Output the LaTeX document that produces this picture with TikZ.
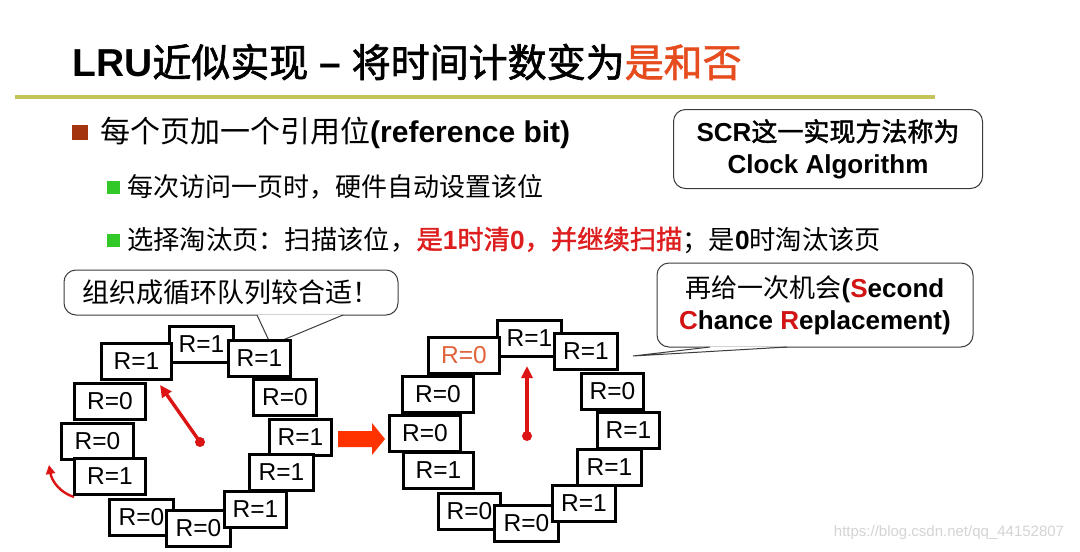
\documentclass[tikz,border=0pt]{standalone}
\usepackage{fontspec}
\setmainfont{Liberation Sans}
\newfontfamily\cjk{Noto Sans CJK SC}
\newfontfamily\cjkmed[FakeBold=1.6]{Noto Sans CJK SC}
\usetikzlibrary{arrows.meta,calc}
\newcommand\zh[1]{{\cjk #1}}
\newcommand\zhm[1]{{\cjkmed #1}}
\definecolor{titleline}{RGB}{196,196,90}
\definecolor{titlered}{RGB}{230,76,30}
\definecolor{textred}{RGB}{222,30,30}
\definecolor{capred}{RGB}{210,20,20}
\definecolor{brownsq}{RGB}{163,52,14}
\definecolor{greensq}{RGB}{50,200,40}
\definecolor{handred}{RGB}{220,20,20}
\definecolor{bigarrow}{RGB}{255,51,0}
\definecolor{orangeR}{RGB}{226,100,60}
\definecolor{boxgray}{RGB}{60,60,60}
\definecolor{wm}{RGB}{212,212,212}
\begin{document}
\begin{tikzpicture}[x=1pt,y=-1pt,
  txt/.style={anchor=west,inner sep=0},
  callbox/.style={draw=boxgray,line width=1,rounded corners=12,fill=white,align=center,inner sep=0,font=\fontsize{26}{32}\selectfont},
  tailline/.style={draw=boxgray,line width=1},
  rbox/.style={draw=black,line width=3,fill=white,minimum height=36,inner sep=0,font=\fontsize{24.5}{28}\selectfont},
  hand/.style={draw=handred,line width=3.4,-{Triangle[length=12,width=11]}},
  handdot/.style={circle,fill=handred,minimum size=10,inner sep=0}]
\useasboundingbox[fill=white] (0,0) rectangle (1080,552);

% title
\node[txt,font=\fontsize{39}{44}\selectfont] (title) at (72,62)
  {\textbf{LRU}\zhm{近似实现}\textbf{ – }\zhm{将时间计数变为}\textcolor{titlered}{\zhm{是和否}}};
\draw[titleline,line width=4.5] (15,97) -- (935,97);

% bullets
\fill[brownsq] (72,125) rectangle (88,140);
\node[txt,font=\fontsize{30}{36}\selectfont] (b1) at (100,133) {\zh{每个页加一个引用位}\textbf{(reference bit)}};
\fill[greensq] (107,181) rectangle (120,194);
\node[txt,font=\fontsize{26}{30}\selectfont] (s1) at (127,187) {\zh{每次访问一页时，硬件自动设置该位}};
\fill[greensq] (107,234) rectangle (120,247);
\node[txt,font=\fontsize{26.3}{30}\selectfont] (s2) at (127,240)
  {\zh{选择淘汰页：扫描该位，}\textcolor{textred}{\zhm{是}\textbf{1}\zhm{时清}\textbf{0}\zhm{，并继续扫描}}\zh{；是}\textbf{0}\zh{时淘汰该页}};

% SCR box
\node[callbox,minimum width=309,minimum height=79] (scr) at (828,149)
  {\textbf{SCR}\zhm{这一实现方法称为}\\\textbf{Clock Algorithm}};

% second chance callout
\node[callbox,minimum width=316,minimum height=84] (sc) at (815,305)
  {\zh{再给一次机会}\textbf{(\textcolor{capred}{S}econd}\\\textbf{\textcolor{capred}{C}hance \textcolor{capred}{R}eplacement)}};
\coordinate (sctip) at (633,356);
\fill[white] ([xshift=-105pt,yshift=1pt]sc.south) -- (sctip) -- ([xshift=-28pt,yshift=1pt]sc.south) -- cycle;
\draw[tailline] ([xshift=-105pt,yshift=0.5pt]sc.south) -- (sctip) -- ([xshift=-28pt,yshift=0.5pt]sc.south);

% queue callout
\node[callbox,minimum width=334,minimum height=45,font=\fontsize{27}{32}\selectfont] (cq) at (231,292.5)
  {\zh{组织成循环队列较合适！}};
\coordinate (cqtip) at (271,345);
\fill[white] ([xshift=26pt,yshift=1pt]cq.south) -- (cqtip) -- ([xshift=112pt,yshift=1pt]cq.south) -- cycle;
\draw[tailline] ([xshift=26pt,yshift=0.5pt]cq.south) -- (cqtip) -- ([xshift=112pt,yshift=0.5pt]cq.south);

% left curved arrow
\coordinate (ca1) at (74,497);
\coordinate (ca2) at (49,465);
\draw[handred,line width=2.4,-{Triangle[length=9,width=9]}] (ca1) .. controls (61,493) and (52,482) .. (ca2);

% left clock
\node[rbox,minimum width=64] (Lt) at (201.5,344) {R=1};
\node[rbox,minimum width=70] (Lul) at (136.5,361.5) {R=1};
\node[rbox,minimum width=62] (Lur) at (259.5,358) {R=1};
\node[rbox,minimum width=71] (Ll2) at (110,401) {R=0};
\node[rbox,minimum width=63] (Lr2) at (285,397.5) {R=0};
\node[rbox,minimum width=72] (Ll3) at (97.5,441) {R=0};
\node[rbox,minimum width=62] (Lr3) at (300.5,437) {R=1};
\node[rbox,minimum width=71] (Ll4) at (110,476) {R=1};
\node[rbox,minimum width=64] (Lr4) at (281.5,472.5) {R=1};
\node[rbox,minimum width=64] (Lbl) at (141.5,517) {R=0};
\node[rbox,minimum width=64] (Lb) at (198.5,528) {R=0};
\node[rbox,minimum width=62] (Lr5) at (255.5,509) {R=1};
\coordinate (Lhtip) at (160,385);
\node[handdot] (Lc) at (200,442) {};
\draw[hand] (Lc.center) -- (Lhtip);

% big arrow
\fill[bigarrow] (338,431) -- (372,431) -- (372,423) -- (385,439) -- (372,455) -- (372,447) -- (338,447) -- cycle;

% right clock
\node[rbox,minimum width=64] (Rt) at (529.5,338.5) {R=1};
\node[rbox,minimum width=71,text=orangeR] (Rul) at (464,355.5) {R=0};
\node[rbox,minimum width=63] (Rur) at (586,351.5) {R=1};
\node[rbox,minimum width=71] (Rl2) at (438,394) {R=0};
\node[rbox,minimum width=62] (Rr2) at (612.5,391) {R=0};
\node[rbox,minimum width=71] (Rl3) at (425,433.5) {R=0};
\node[rbox,minimum width=62] (Rr3) at (628.5,430.5) {R=1};
\node[rbox,minimum width=70] (Rl4) at (438.5,470.5) {R=1};
\node[rbox,minimum width=64] (Rr4) at (609.5,467) {R=1};
\node[rbox,minimum width=62] (Rbl) at (469.5,511.5) {R=0};
\node[rbox,minimum width=64] (Rb) at (526.5,523) {R=0};
\node[rbox,minimum width=63] (Rr5) at (584,503) {R=1};
\coordinate (Rhtip) at (527,366);
\node[handdot] (Rc) at (527,436) {};
\draw[hand] (Rc.center) -- (Rhtip);

% watermark
\node[font=\fontsize{15}{18}\selectfont,text=wm,inner sep=0] (wmk) at (949,533) {https://blog.csdn.net/qq\_44152807};
\end{tikzpicture}
\end{document}
